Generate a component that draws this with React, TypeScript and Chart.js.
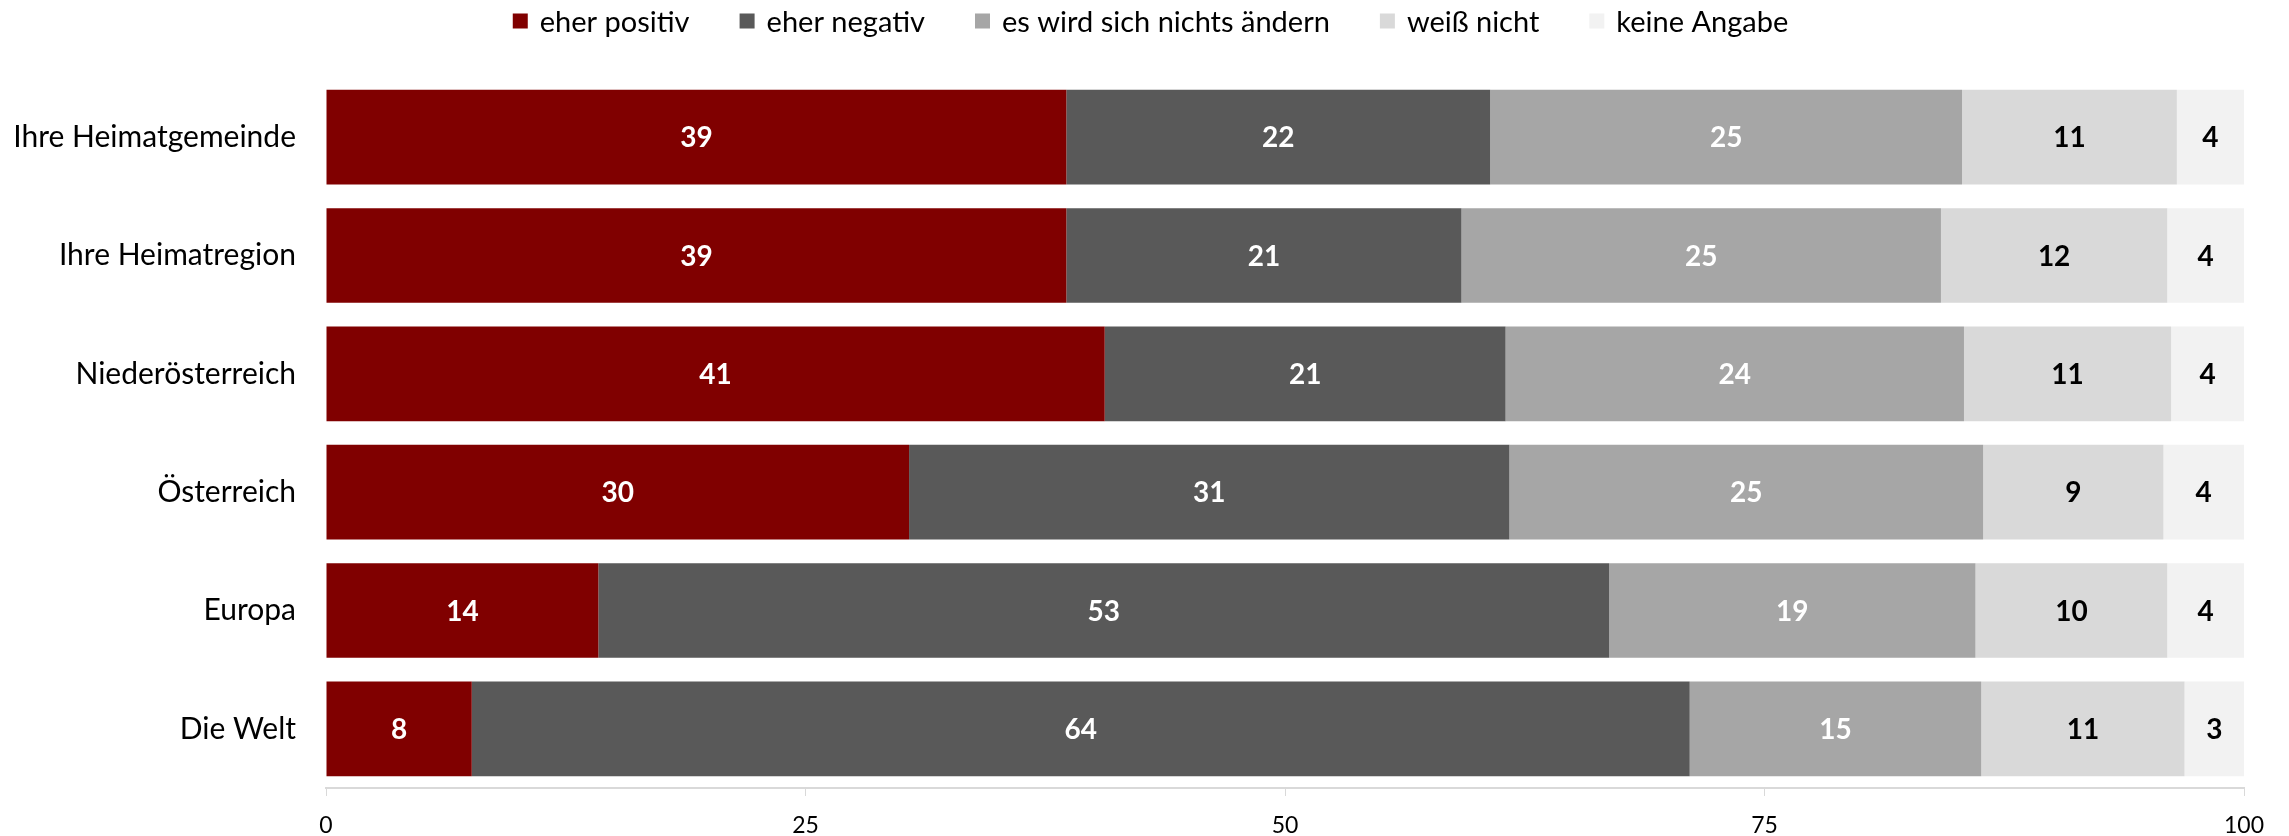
import React, { useEffect, useRef } from "react";
import { Chart, registerables } from "chart.js";

Chart.register(...registerables);

const categories = [
  "Ihre Heimatgemeinde",
  "Ihre Heimatregion",
  "Niederösterreich",
  "Österreich",
  "Europa",
  "Die Welt",
];
const seriesNames = [
  "eher positiv",
  "eher negativ",
  "es wird sich nichts ändern",
  "weiß nicht",
  "keine Angabe",
];
const eherPositiv = [38.6, 38.6, 40.6, 30.4, 14.2, 7.6];
const eherNegativ = [22.1, 20.6, 20.9, 31.3, 52.7, 63.5];
const nichtsAendern = [24.6, 25.0, 23.9, 24.7, 19.1, 15.2];
const weissNicht = [11.2, 11.8, 10.8, 9.4, 10.0, 10.6];
const keineAngabe = [3.5, 4.0, 3.8, 4.2, 4.0, 3.1];
const xTickValues = [0, 25, 50, 75, 100];

const seriesColors = ["#800000", "#595959", "#A6A6A6", "#D9D9D9", "#F2F2F2"];
const labelColors = ["#FFFFFF", "#FFFFFF", "#FFFFFF", "#000000", "#000000"];

const FONT = "Lato, 'Open Sans', sans-serif";
const W = 2289;
const H = 836;

const valueLabelPlugin = {
  id: "valueLabels",
  afterDatasetsDraw(chart: any) {
    const ctx = chart.ctx;
    ctx.save();
    ctx.font = `bold 28px ${FONT}`;
    ctx.textAlign = "center";
    ctx.textBaseline = "middle";
    chart.data.datasets.forEach((ds: any, di: number) => {
      const meta = chart.getDatasetMeta(di);
      meta.data.forEach((bar: any, i: number) => {
        const v = ds.data[i];
        const cx = (bar.x + bar.base) / 2;
        ctx.fillStyle = labelColors[di];
        ctx.fillText(String(Math.round(v)), cx, bar.y + 1);
      });
    });
    ctx.restore();
  },
};

const legendPlugin = {
  id: "customLegend",
  afterDraw(chart: any) {
    const ctx = chart.ctx;
    ctx.save();
    ctx.font = `29px ${FONT}`;
    ctx.textBaseline = "middle";
    ctx.textAlign = "left";
    const box = 15;
    const gapBoxText = 12;
    const gapItems = 50;
    const names = chart.data.datasets.map((d: any) => d.label);
    const widths = names.map((n: string) => ctx.measureText(n).width);
    const total =
      widths.reduce((a: number, w: number) => a + box + gapBoxText + w, 0) +
      gapItems * (names.length - 1);
    let x = (chart.width - total) / 2 + 6;
    const cy = 22;
    names.forEach((n: string, i: number) => {
      ctx.fillStyle = chart.data.datasets[i].backgroundColor;
      ctx.fillRect(x, cy - box / 2 - 1, box, box);
      x += box + gapBoxText;
      ctx.fillStyle = "#000000";
      ctx.fillText(n, x, cy + 1);
      x += widths[i] + gapItems;
    });
    ctx.restore();
  },
};

export default function App() {
  const ref = useRef<HTMLCanvasElement | null>(null);

  useEffect(() => {
    if (!ref.current) return;
    const seriesData = [eherPositiv, eherNegativ, nichtsAendern, weissNicht, keineAngabe];
    const chart = new Chart(ref.current, {
      type: "bar",
      data: {
        labels: categories,
        datasets: seriesNames.map((name, i) => ({
          label: name,
          data: seriesData[i],
          backgroundColor: seriesColors[i],
          borderWidth: 0,
          categoryPercentage: 0.8,
          barPercentage: 1.0,
        })),
      },
      options: {
        indexAxis: "y",
        responsive: false,
        animation: false,
        layout: { padding: { top: 78, right: 45, bottom: 0, left: 0 } },
        plugins: {
          legend: { display: false },
          tooltip: { enabled: false },
        },
        scales: {
          x: {
            stacked: true,
            min: 0,
            max: 100,
            afterBuildTicks: (scale: any) => {
              scale.ticks = xTickValues.map((v) => ({ value: v }));
            },
            afterFit: (scale: any) => {
              scale.height = 48;
            },
            grid: {
              drawOnChartArea: false,
              drawTicks: true,
              tickLength: 8,
              color: "#D9D9D9",
              lineWidth: 1,
            },
            border: { display: true, color: "#D9D9D9", width: 2 },
            ticks: {
              font: { family: FONT, size: 23 },
              color: "#000000",
              padding: 16,
              maxRotation: 0,
            },
          },
          y: {
            stacked: true,
            afterFit: (scale: any) => {
              scale.width = 326;
            },
            grid: { display: false, drawTicks: false },
            border: { display: false },
            ticks: {
              font: { family: FONT, size: 30 },
              color: "#000000",
              padding: 30,
            },
          },
        },
      },
      plugins: [valueLabelPlugin, legendPlugin],
    });
    return () => chart.destroy();
  }, []);

  return (
    <div style={{ position: "absolute", left: 0, top: 0, width: W, height: H, background: "#FFFFFF" }}>
      <canvas ref={ref} width={W} height={H} style={{ display: "block", width: W, height: H }} />
    </div>
  );
}
